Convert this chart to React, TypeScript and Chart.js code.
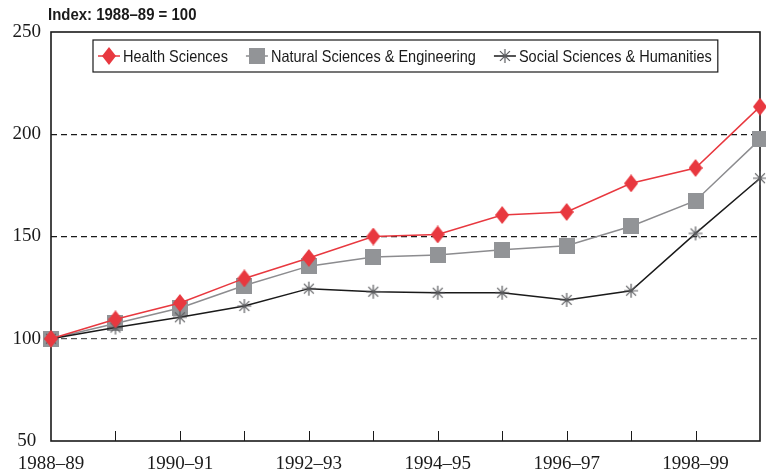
import React, { useEffect, useRef } from 'react';
import { Chart, registerables } from 'chart.js';

Chart.register(...registerables);

const categories = ['1988–89', '1989–90', '1990–91', '1991–92', '1992–93', '1993–94', '1994–95', '1995–96', '1996–97', '1997–98', '1998–99', '1999–2000'];
const healthSciences = [100, 109.5, 117.5, 129.5, 139.5, 150, 151, 160.5, 162, 176, 183.5, 213.5];
const naturalSciences = [100, 107.5, 115, 126, 135.5, 140, 141, 143.5, 145.5, 155, 167.5, 197.5];
const socialSciences = [100, 105.5, 110.5, 116, 124.5, 123, 122.5, 122.5, 119, 123.5, 151.5, 178.5];
const yTicks = [50, 100, 150, 200, 250];
const titleText = 'Index: 1988–89 = 100';
const legendLabels = ['Health Sciences', 'Natural Sciences & Engineering', 'Social Sciences & Humanities'];

const RED = '#e8383f';
const GRAY = '#929497';
const GRAYLINE = '#8c8c8f';
const STARGRAY = '#5a5b5e';
const SERIF = '"Liberation Serif", "Times New Roman", serif';
const SANS = '"Liberation Sans", Arial, sans-serif';
const CONDENSE = 0.88;

function makeDiamond(): HTMLCanvasElement {
  const c = document.createElement('canvas');
  c.width = 14; c.height = 18;
  const g = c.getContext('2d')!;
  g.fillStyle = RED;
  g.beginPath();
  g.moveTo(7, 0); g.lineTo(14, 9); g.lineTo(7, 18); g.lineTo(0, 9); g.closePath();
  g.fill();
  return c;
}
function makeSquare(): HTMLCanvasElement {
  const c = document.createElement('canvas');
  c.width = 16; c.height = 16;
  const g = c.getContext('2d')!;
  g.fillStyle = GRAY;
  g.fillRect(0, 0, 16, 16);
  return c;
}
function makeStar(): HTMLCanvasElement {
  const c = document.createElement('canvas');
  c.width = 16; c.height = 16;
  const g = c.getContext('2d')!;
  g.strokeStyle = STARGRAY;
  g.lineWidth = 1.2;
  const r = 7;
  g.beginPath();
  for (let k = 0; k < 4; k++) {
    const a = (k * Math.PI) / 4;
    g.moveTo(8 - r * Math.cos(a), 8 - r * Math.sin(a));
    g.lineTo(8 + r * Math.cos(a), 8 + r * Math.sin(a));
  }
  g.stroke();
  return c;
}

function condensedText(ctx: CanvasRenderingContext2D, text: string, x: number, y: number) {
  ctx.save();
  ctx.translate(x, y);
  ctx.scale(CONDENSE, 1);
  ctx.fillText(text, 0, 0);
  ctx.restore();
  return ctx.measureText(text).width * CONDENSE;
}

export default function App() {
  const ref = useRef<HTMLCanvasElement | null>(null);

  useEffect(() => {
    const canvas = ref.current;
    if (!canvas) return;
    const diamond = makeDiamond();
    const square = makeSquare();
    const star = makeStar();
    const markers = [diamond, square, star];
    const lineColors = [RED, GRAYLINE, '#1a1a1a'];

    const framePlugin = {
      id: 'frame',
      beforeDatasetsDraw(chart: any) {
        const { ctx, chartArea: a, scales } = chart;
        ctx.save();
        ctx.strokeStyle = '#1a1a1a';
        ctx.lineWidth = 1.6;
        ctx.strokeRect(a.left, a.top, a.right - a.left, a.bottom - a.top);
        ctx.lineWidth = 1;
        const xs = scales.x;
        for (let i = 1; i < categories.length - 1; i++) {
          const px = Math.round(xs.getPixelForTick(i)) + 0.5;
          ctx.beginPath();
          ctx.moveTo(px, a.bottom);
          ctx.lineTo(px, a.bottom - 10);
          ctx.stroke();
        }
        ctx.restore();
      },
      afterDraw(chart: any) {
        const { ctx, chartArea: a } = chart;
        ctx.save();
        // title
        ctx.fillStyle = '#1a1a1a';
        ctx.font = 'bold 17px ' + SANS;
        ctx.textBaseline = 'middle';
        ctx.textAlign = 'left';
        condensedText(ctx, titleText, a.left - 3, 15);
        // legend
        ctx.font = '16.5px ' + SANS;
        const boxLeft = a.left + 42;
        const boxTop = 40;
        const boxH = 32;
        const cy = boxTop + boxH / 2;
        let x = boxLeft + 5;
        const segLen = 22;
        const textOff = 25;
        const gap = 18;
        for (let i = 0; i < legendLabels.length; i++) {
          ctx.strokeStyle = lineColors[i];
          ctx.lineWidth = 1.5;
          ctx.beginPath();
          ctx.moveTo(x, cy);
          ctx.lineTo(x + segLen, cy);
          ctx.stroke();
          const m = markers[i];
          ctx.drawImage(m, x + segLen / 2 - m.width / 2, cy - m.height / 2);
          ctx.fillStyle = '#1a1a1a';
          const w = condensedText(ctx, legendLabels[i], x + textOff, cy + 1);
          x += textOff + w;
          if (i < legendLabels.length - 1) x += gap;
        }
        const boxRight = x + 6;
        ctx.strokeStyle = '#1a1a1a';
        ctx.lineWidth = 1.2;
        ctx.strokeRect(boxLeft, boxTop, boxRight - boxLeft, boxH);
        ctx.restore();
      },
    };

    const chart = new Chart(canvas, {
      type: 'line',
      data: {
        labels: categories,
        datasets: [
          {
            label: legendLabels[0],
            data: healthSciences,
            borderColor: RED,
            backgroundColor: RED,
            borderWidth: 1.5,
            pointStyle: diamond,
            pointRadius: 8,
            clip: false,
            order: 1,
          },
          {
            label: legendLabels[1],
            data: naturalSciences,
            borderColor: GRAYLINE,
            backgroundColor: GRAY,
            borderWidth: 1.5,
            pointStyle: square,
            pointRadius: 8,
            clip: false,
            order: 3,
          },
          {
            label: legendLabels[2],
            data: socialSciences,
            borderColor: '#1a1a1a',
            backgroundColor: STARGRAY,
            borderWidth: 1.5,
            pointStyle: star,
            pointRadius: 8,
            clip: false,
            order: 2,
          },
        ],
      },
      options: {
        responsive: false,
        animation: false,
        layout: { autoPadding: false, padding: { top: 32, right: 6, left: 0, bottom: 0 } },
        plugins: {
          legend: { display: false },
          title: { display: false },
          tooltip: { enabled: false },
        },
        scales: {
          x: {
            type: 'category',
            offset: false,
            grid: { display: false, drawTicks: false },
            border: { display: false },
            ticks: {
              autoSkip: false,
              maxRotation: 0,
              minRotation: 0,
              padding: 12,
              color: '#1a1a1a',
              font: { family: SERIF, size: 19 },
              callback: (_v: any, i: number) => (i % 2 === 0 ? categories[i] : ''),
            },
            afterFit: (s: any) => { s.height = 32; s.paddingRight = 0; s.paddingLeft = 0; },
          },
          y: {
            min: yTicks[0],
            max: yTicks[yTicks.length - 1],
            afterBuildTicks: (s: any) => { s.ticks = yTicks.map((v) => ({ value: v })); },
            ticks: {
              color: '#1a1a1a',
              crossAlign: 'center',
              padding: 10,
              font: { family: SERIF, size: 19 },
            },
            grid: {
              drawTicks: false,
              lineWidth: 1.2,
              color: (ctx: any) => {
                const v = ctx.tick && ctx.tick.value;
                if (v === 100) return '#555555';
                if (v === 150 || v === 200) return '#1a1a1a';
                return 'rgba(0,0,0,0)';
              },
            },
            border: { display: false, dash: [6, 4] },
            afterFit: (s: any) => { s.width = 51; s.paddingTop = 0; s.paddingBottom = 0; },
          },
        },
      },
      plugins: [framePlugin],
    });

    return () => chart.destroy();
  }, []);

  return (
    <div style={{ position: 'fixed', left: 0, top: 0, width: 766, height: 473, background: '#fff' }}>
      <canvas ref={ref} width={766} height={473} style={{ display: 'block', width: 766, height: 473 }} />
    </div>
  );
}
